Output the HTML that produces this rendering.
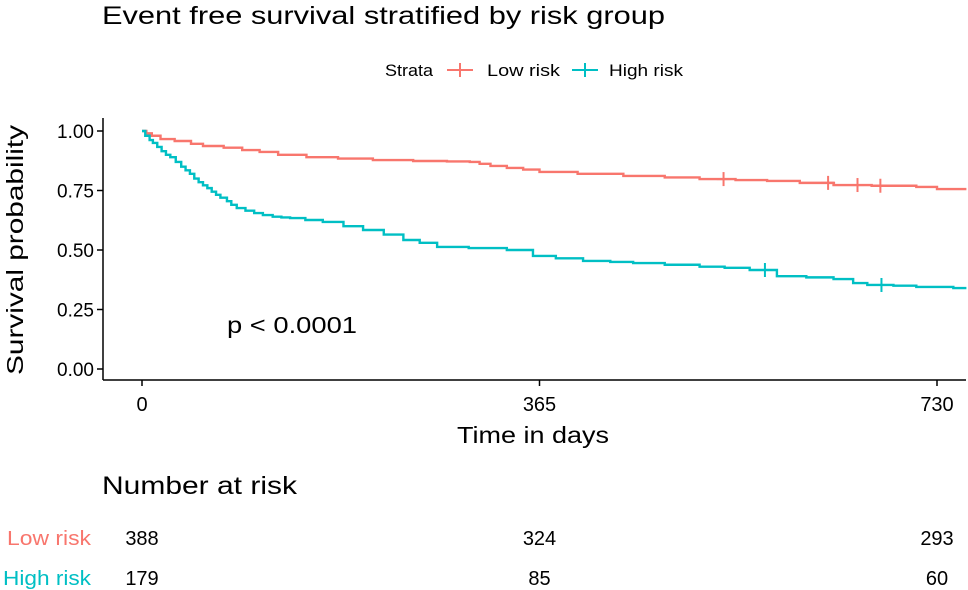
<!DOCTYPE html>
<html><head><meta charset="utf-8"><style>
html,body{margin:0;padding:0;background:#fff;}
svg{display:block;font-family:"Liberation Sans",sans-serif;}
</style></head><body>
<svg id="chart" width="968" height="590" viewBox="0 0 968 590">
<text x="102" y="24" font-size="25" textLength="563" lengthAdjust="spacingAndGlyphs">Event free survival stratified by risk group</text>
<g font-size="17">
<text x="385" y="76" textLength="48" lengthAdjust="spacingAndGlyphs">Strata</text>
<g>
<line x1="447" y1="70" x2="473" y2="70" stroke="#F8766D" stroke-width="2"/><line x1="460" y1="63" x2="460" y2="77" stroke="#F8766D" stroke-width="2"/>
<text x="487" y="76" textLength="73" lengthAdjust="spacingAndGlyphs">Low risk</text></g>
<g>
<line x1="572" y1="70" x2="598" y2="70" stroke="#00BFC4" stroke-width="2"/><line x1="585" y1="63" x2="585" y2="77" stroke="#00BFC4" stroke-width="2"/>
<text x="609" y="76" textLength="74" lengthAdjust="spacingAndGlyphs">High risk</text></g>
</g>
<text transform="translate(23,250) rotate(-90)" text-anchor="middle" font-size="23" textLength="250" lengthAdjust="spacingAndGlyphs">Survival probability</text>
<line x1="103" y1="118" x2="103" y2="380" stroke="#000" stroke-width="1.5"/>
<line x1="103" y1="380" x2="966" y2="380" stroke="#000" stroke-width="1.5"/>
<g id="yticks"></g><g id="xticks"></g><g id="curves"></g>
<text x="227" y="333" font-size="23" textLength="130" lengthAdjust="spacingAndGlyphs">p &lt; 0.0001</text>
<text x="457" y="443" font-size="23" textLength="152" lengthAdjust="spacingAndGlyphs">Time in days</text>
<text x="102" y="494" font-size="25" textLength="195" lengthAdjust="spacingAndGlyphs">Number at risk</text>
<text x="91" y="545" text-anchor="end" font-size="20" fill="#F8766D" textLength="84" lengthAdjust="spacingAndGlyphs">Low risk</text>
<text x="91" y="585" text-anchor="end" font-size="20" fill="#00BFC4" textLength="88" lengthAdjust="spacingAndGlyphs">High risk</text>
<g id="risk"></g>
</svg>
<script>
const yTicks=[0,0.25,0.5,0.75,1];
const xTicks=[0,365,730];
const lowT=[0,4,9,17,30,45,56,75,92,108,125,151,180,212,249,280,301,310,320,335,350,365,400,442,480,512,545,574,604,635,670,711,730,757];
const lowS=[1,0.99,0.98,0.966,0.958,0.946,0.937,0.93,0.92,0.912,0.9,0.89,0.884,0.878,0.874,0.872,0.87,0.862,0.853,0.845,0.838,0.828,0.82,0.811,0.805,0.798,0.794,0.79,0.782,0.773,0.77,0.765,0.756,0.756];
const highT=[0,3,7,10,14,18,22,26,31,36,40,44,48,52,56,60,64,68,72,78,82,87,95,103,111,120,128,136,150,166,185,203,222,240,255,271,300,335,359,380,405,430,451,480,512,535,558,583,610,635,653,666,690,711,745,757];
const highS=[1,0.98,0.962,0.95,0.933,0.915,0.9,0.89,0.87,0.85,0.835,0.82,0.8,0.785,0.772,0.76,0.745,0.732,0.72,0.705,0.69,0.676,0.665,0.655,0.647,0.64,0.637,0.634,0.626,0.618,0.6,0.584,0.565,0.542,0.53,0.513,0.508,0.5,0.475,0.465,0.454,0.45,0.445,0.438,0.43,0.425,0.416,0.39,0.385,0.378,0.361,0.353,0.35,0.345,0.34,0.34];
const lowCens=[534,630,657,678];
const highCens=[572,679];
const riskTimes=[0,365,730];
const lowRisk=[388,324,293];
const highRisk=[179,85,60];
const NS="http://www.w3.org/2000/svg";
const X=t=>142+t*(795/730);
const Y=s=>369-s*238;
function mk(tag,attrs,parent){const e=document.createElementNS(NS,tag);for(const k in attrs)e.setAttribute(k,attrs[k]);parent.appendChild(e);return e;}
const yg=document.getElementById('yticks');
yTicks.forEach(v=>{
 const l=mk('line',{x1:97,x2:103,y1:Y(v),y2:Y(v),stroke:'#000','stroke-width':1.5},yg);
 
 
 const t=mk('text',{x:94,y:Y(v)+7,'text-anchor':'end','font-size':19},yg);
 
 
 t.textContent=v.toFixed(2);
});
const xg=document.getElementById('xticks');
xTicks.forEach(v=>{
 const l=mk('line',{x1:X(v),x2:X(v),y1:380,y2:386,stroke:'#000','stroke-width':1.5},xg);
 
 
 const t=mk('text',{x:X(v),y:411,'text-anchor':'middle','font-size':20},xg);
 
 
 t.textContent=v;
});
const cg=document.getElementById('curves');
function curve(T,S,col,name){
 let d='M'+X(T[0])+','+Y(S[0]);
 for(let i=1;i<T.length;i++){d+=' H'+X(T[i])+' V'+Y(S[i]);}
 const p=mk('path',{d:d,fill:'none',stroke:col,'stroke-width':2.4},cg);
 
 
}
function sAt(T,S,t){let s=S[0];for(let i=0;i<T.length;i++){if(T[i]<=t)s=S[i];}return s;}
function cens(C,T,S,col,name){
 C.forEach(t=>{
  const x=X(t),y=Y(sAt(T,S,t));
  const g=mk('g',{},cg);
  
  
  mk('line',{x1:x-7,x2:x+7,y1:y,y2:y,stroke:col,'stroke-width':2},g);
  mk('line',{x1:x,x2:x,y1:y-7,y2:y+7,stroke:col,'stroke-width':2},g);
 });
}
curve(lowT,lowS,'#F8766D','low-risk-curve');
curve(highT,highS,'#00BFC4','high-risk-curve');
cens(lowCens,lowT,lowS,'#F8766D','low-risk-censor-mark');
cens(highCens,highT,highS,'#00BFC4','high-risk-censor-mark');
const rg=document.getElementById('risk');
riskTimes.forEach((t,i)=>{
 const a=mk('text',{x:X(t),y:545,'text-anchor':'middle','font-size':20},rg);
 
 
 a.textContent=lowRisk[i];
 const b=mk('text',{x:X(t),y:585,'text-anchor':'middle','font-size':20},rg);
 
 
 b.textContent=highRisk[i];
});
</script>
</body></html>
